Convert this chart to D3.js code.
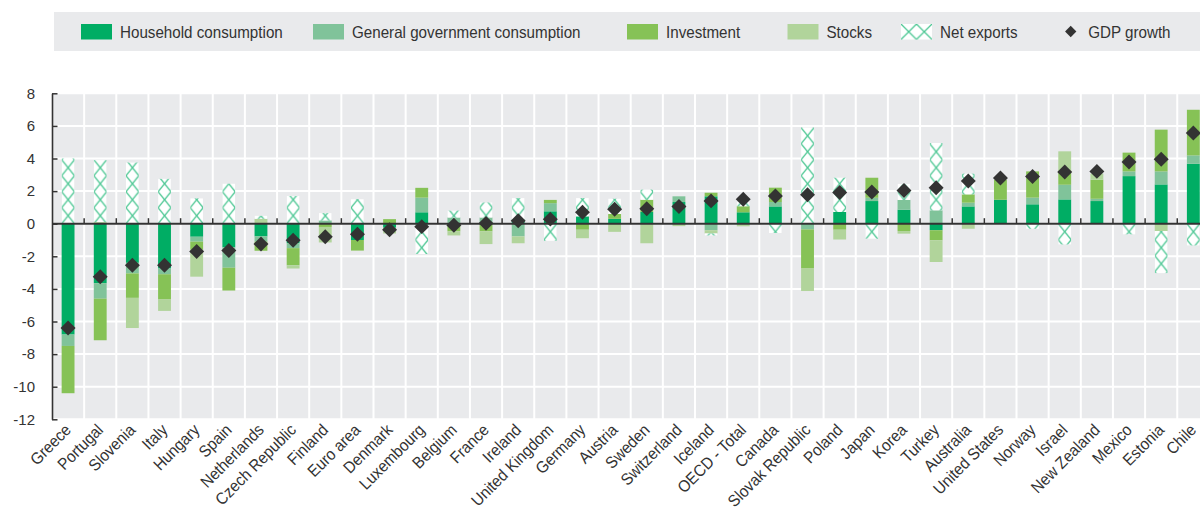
<!DOCTYPE html>
<html>
<head>
<meta charset="utf-8">
<script src="https://cdn.jsdelivr.net/npm/d3@7"></script>
<style>
  body { margin: 0; background: #fff; }
  svg text { font-family: "Liberation Sans", Arial, sans-serif; fill: #333; }
</style>
</head>
<body>
<svg width="1200" height="510"></svg>
<script>
// chart data
const countries = ["Greece", "Portugal", "Slovenia", "Italy", "Hungary", "Spain", "Netherlands", "Czech Republic",
  "Finland", "Euro area", "Denmark", "Luxembourg", "Belgium", "France", "Ireland", "United Kingdom", "Germany",
  "Austria", "Sweden", "Switzerland", "Iceland", "OECD - Total", "Canada", "Slovak Republic", "Poland", "Japan",
  "Korea", "Turkey", "Australia", "United States", "Norway", "Israel", "New Zealand", "Mexico", "Estonia", "Chile"]
const household  = [-6.8, -3.65, -2.4, -2.75, -0.8, -1.45, -0.78, -1.2, 0, -1.0, -0.25, 0.7, 0, 0, 0.25, 0.76, 0.45,
  0.3, 0.72, 1.33, 1.68, 0.7, 1.06, 0, 0.72, 1.39, 0.86, -0.4, 1.06, 1.47, 1.19, 1.49, 1.39, 2.92, 2.41, 3.68]
const government = [-0.7, -0.95, -0.65, -0.35, -0.3, -1.25, -0.32, -0.3, 0.2, 0, 0, 0.9, 0.38, 0.38, -0.78, 0.5, 0,
  0, 0, 0.35, -0.4, 0, 0.27, -0.35, 0, 0.2, 0.6, 0.82, 0.23, 0, 0.41, 0.9, 0.14, 0.29, 0.8, 0.51]
const investment = [-2.9, -2.55, -1.5, -1.55, -0.5, -1.4, -0.56, -1.05, -0.2, -0.65, 0.28, 0.6, -0.47, -0.47, 0, 0.2, -0.37,
  0.3, 0.75, 0, 0.22, 0.37, 0.88, -2.4, -0.37, 1.23, -0.45, -0.62, 0.51, 1.23, 1.61, 0.88, 1.17, 1.15, 2.56, 2.8]
const stocks     = [0, 0.1, -1.85, -0.7, -1.65, 0, 0.3, -0.2, -0.95, 0, -0.35, 0, -0.25, -0.78, -0.42, 0, -0.52,
  -0.5, -1.2, -0.15, -0.2, -0.16, 0, -1.38, -0.6, 0, -0.16, -1.33, -0.31, 0, 0, 1.17, 0.37, 0, -0.45, 0]
const netExports = [4.0, 3.8, 3.75, 2.75, 1.55, 2.45, 0.18, 1.7, 0.45, 1.5, 0, -1.86, 0.42, 0.92, 1.32, -1.05, 1.12,
  0.93, 0.62, 0, -0.12, 0.25, -0.57, 5.9, 2.1, -0.92, 0.98, 4.13, 1.27, 0, -0.31, -1.27, 0, -0.65, -2.58, -1.33]
const gdpGrowth  = [-6.4, -3.25, -2.55, -2.55, -1.7, -1.65, -1.25, -1.02, -0.8, -0.65, -0.37, -0.18, -0.1, 0.02, 0.18,
  0.28, 0.7, 0.88, 0.92, 1.05, 1.4, 1.5, 1.7, 1.78, 1.92, 1.95, 2.04, 2.2, 2.62, 2.8, 2.9, 3.17, 3.21, 3.78, 3.95, 5.56]
const yTicks = [-12, -10, -8, -6, -4, -2, 0, 2, 4, 6, 8]
const seriesKeys = ["household", "government", "investment", "stocks", "netExports"]
const seriesNames = ["Household consumption", "General government consumption", "Investment", "Stocks", "Net exports"]
const seriesColors = ["#00ad64", "#80c39a", "#86c256", "#b1d49b", "url(#nx)"]

const svg = d3.select("svg")
const BG = "#e9eaec"
const NX_GREEN = "#4cc793"
const LEFT = 52, RIGHT = 1209.4, TOP = 93.3, BOTTOM = 419.3
const FONT = 16.5, SQUEEZE = 0.92

const x = d3.scaleBand().domain(countries).range([LEFT, RIGHT]).paddingInner(0.6).paddingOuter(0.3)
const y = d3.scaleLinear().domain([-12, 8]).range([BOTTOM, TOP])
const bw = x.bandwidth()
const gap = (x.step() - bw) / 2

// net exports hatch, one cell per bar so the X lines up with each column
const defs = svg.append("defs")
const nx = defs.append("pattern").attr("id", "nx").attr("patternUnits", "userSpaceOnUse")
  .attr("x", x(countries[0])).attr("y", y(0)).attr("width", x.step()).attr("height", 16)
nx.append("rect").attr("width", bw).attr("height", 16).attr("fill", "#fff")
nx.append("path").attr("d", `M0,0L${bw},16M${bw},0L0,16`)
  .attr("stroke", NX_GREEN).attr("stroke-width", 1.3).attr("fill", "none")

// legend
const legendX = [81, 313, 627, 787.5, 901, 1070.7]
const LEG_Y = 24, LEG_H = 15.5
const legend = svg.append("g")
legend.append("rect").attr("x", 54).attr("y", 12).attr("width", 1146).attr("height", 39).attr("fill", BG)

const nxl = defs.append("pattern").attr("id", "nxLegend").attr("patternUnits", "userSpaceOnUse")
  .attr("x", legendX[4]).attr("y", LEG_Y).attr("width", 15.5).attr("height", LEG_H)
nxl.append("rect").attr("width", 15.5).attr("height", LEG_H).attr("fill", "#fff")
nxl.append("path").attr("d", `M0,0L15.5,${LEG_H}M15.5,0L0,${LEG_H}`)
  .attr("stroke", NX_GREEN).attr("stroke-width", 1.3).attr("fill", "none")

seriesNames.forEach((name, i) => {
  legend.append("rect").attr("x", legendX[i]).attr("y", LEG_Y).attr("width", 31).attr("height", LEG_H)
    .attr("fill", i === 4 ? "url(#nxLegend)" : seriesColors[i])
  legend.append("text").attr("transform", `translate(${legendX[i] + 39},37.5) scale(${SQUEEZE},1)`)
    .attr("font-size", FONT).text(name)
})
legend.append("path").attr("d", d3.symbol(d3.symbolSquare, 64)())
  .attr("transform", `translate(${legendX[5]},31.5) rotate(45)`).attr("fill", "#333")
legend.append("text").attr("transform", `translate(${legendX[5] + 17.5},37.5) scale(${SQUEEZE},1)`)
  .attr("font-size", FONT).text("GDP growth")

// plot background and grid
svg.append("rect").attr("x", LEFT).attr("y", TOP).attr("width", RIGHT - LEFT).attr("height", BOTTOM - TOP).attr("fill", BG)
svg.append("g").selectAll("line").data(yTicks).join("line")
  .attr("x1", LEFT).attr("x2", RIGHT).attr("y1", d => y(d)).attr("y2", d => y(d))
  .attr("stroke", "#fff").attr("stroke-width", 2)
svg.append("g").selectAll("line").data(countries.slice(1)).join("line")
  .attr("x1", d => x(d) - gap).attr("x2", d => x(d) - gap).attr("y1", TOP).attr("y2", BOTTOM)
  .attr("stroke", "#fff").attr("stroke-width", 2)

// stacked bars, positives up and negatives down
const rows = countries.map((c, i) => ({
  country: c, household: household[i], government: government[i], investment: investment[i],
  stocks: stocks[i], netExports: netExports[i]
}))
const stacked = d3.stack().keys(seriesKeys).offset(d3.stackOffsetDiverging)(rows)

svg.append("g").selectAll("g").data(stacked).join("g")
  .attr("fill", (d, i) => seriesColors[i])
  .selectAll("rect").data(d => d).join("rect")
  .attr("x", d => x(d.data.country))
  .attr("width", bw)
  .attr("y", d => y(Math.max(d[0], d[1])))
  .attr("height", d => Math.abs(y(d[0]) - y(d[1])))

// zero line with small ticks between countries
svg.append("line").attr("x1", LEFT).attr("x2", RIGHT).attr("y1", y(0)).attr("y2", y(0))
  .attr("stroke", "#333").attr("stroke-width", 2)
svg.append("g").selectAll("line").data(countries.slice(1)).join("line")
  .attr("x1", d => x(d) - gap).attr("x2", d => x(d) - gap).attr("y1", y(0)).attr("y2", y(0) - 5.5)
  .attr("stroke", "#333").attr("stroke-width", 1.5)

// y axis
const yAxis = svg.append("g").attr("transform", `translate(${LEFT},0)`)
  .call(d3.axisLeft(y).tickValues(yTicks).tickSize(-5.5).tickSizeOuter(0).tickPadding(17))
yAxis.select(".domain").attr("stroke", "#333").attr("stroke-width", 1.6)
yAxis.selectAll(".tick line").attr("stroke", "#333").attr("stroke-width", 1.5)
yAxis.selectAll(".tick text").attr("font-size", 15).attr("font-family", "'Liberation Sans', Arial, sans-serif").attr("fill", "#333")
  .text(d => d < 0 ? "-" + Math.abs(d) : d)

// country labels
svg.append("g").selectAll("text").data(countries).join("text")
  .attr("transform", d => `translate(${x(d) + bw / 2 + 4},431) rotate(-45) scale(${SQUEEZE},1)`)
  .attr("text-anchor", "end").attr("font-size", FONT)
  .text(d => d)

// GDP growth diamonds
svg.append("g").selectAll("path").data(countries).join("path")
  .attr("d", d3.symbol(d3.symbolSquare, 112)())
  .attr("transform", (d, i) => `translate(${x(d) + bw / 2},${y(gdpGrowth[i])}) rotate(45)`)
  .attr("fill", "#333")
</script>
</body>
</html>
